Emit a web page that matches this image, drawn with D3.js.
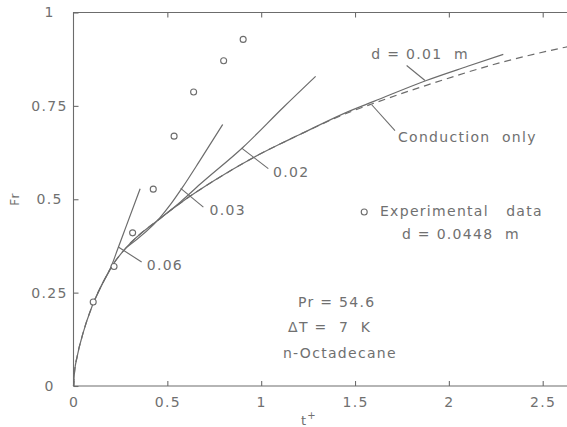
<!DOCTYPE html>
<html>
<head>
<meta charset="utf-8">
<script src="https://cdn.jsdelivr.net/npm/d3@7"></script>
<style>
  body { margin: 0; background: #fff; }
  text { font-family: "DejaVu Sans", sans-serif; fill: #707070; letter-spacing: 1.3px; }
</style>
</head>
<body>
<div id="grafica"></div>
<script>
// data (t+ , Fr)
var conductionT  = [0, 0.005, 0.02, 0.05, 0.1, 0.16, 0.21, 0.28, 0.46, 0.57, 0.75, 0.9, 0.96, 1.1, 1.2, 1.47, 1.6, 1.88, 2.27, 2.62, 2.75];
var conductionFr = [0, 0.035, 0.08, 0.14, 0.215, 0.28, 0.325, 0.37, 0.448, 0.49, 0.55, 0.595, 0.612, 0.648, 0.672, 0.733, 0.757, 0.805, 0.865, 0.907, 0.92];

var d001T  = [0, 0.005, 0.02, 0.05, 0.1, 0.16, 0.21, 0.28, 0.46, 0.57, 0.75, 0.9, 0.96, 1.1, 1.2, 1.47, 1.6, 1.88, 2.1, 2.29];
var d001Fr = [0, 0.035, 0.08, 0.14, 0.215, 0.28, 0.325, 0.37, 0.448, 0.49, 0.55, 0.595, 0.612, 0.648, 0.672, 0.736, 0.762, 0.818, 0.856, 0.888];

var d002T  = [0.46, 0.57, 0.674, 0.905, 1.12, 1.29];
var d002Fr = [0.448, 0.493, 0.54, 0.64, 0.747, 0.829];

var d003T  = [0.28, 0.46, 0.52, 0.577, 0.674, 0.795];
var d003Fr = [0.37, 0.45, 0.488, 0.529, 0.604, 0.70];

var d006T  = [0.1, 0.16, 0.19, 0.24, 0.275, 0.355];
var d006Fr = [0.215, 0.28, 0.307, 0.373, 0.42, 0.528];

var expT  = [0.105, 0.216, 0.315, 0.425, 0.536, 0.64, 0.80, 0.904];
var expFr = [0.225, 0.32, 0.41, 0.527, 0.669, 0.787, 0.871, 0.928];

var xTicks = [0, 0.5, 1, 1.5, 2, 2.5];
var yTicks = [0, 0.25, 0.5, 0.75, 1];

var w = 567, h = 427;
var ink = "#6c6c6c";

var svg = d3.select("#grafica")
    .append("svg")
    .attr("width", w)
    .attr("height", h);

var x = d3.scaleLinear().domain([0, 2.5]).range([73.5, 542.7]);
var y = d3.scaleLinear().domain([0, 1]).range([386, 12.5]);

function pts(ts, fs) {
    return ts.map(function(t, i) { return [t, fs[i]]; });
}

var line = d3.line()
    .x(function(d) { return x(d[0]); })
    .y(function(d) { return y(d[1]); })
    .curve(d3.curveMonotoneX);

// frame (right side runs off the picture)
svg.append("path")
    .attr("d", "M" + x(2.8) + "," + y(1) + "H" + x(0) + "V" + y(0) + "H" + x(2.8))
    .attr("fill", "none")
    .attr("stroke", ink)
    .attr("stroke-width", 1.1);

// axes, ticks pointing inward
var plain = function(d) { return String(d); };

var gx = svg.append("g")
    .attr("transform", "translate(0," + y(0) + ")")
    .call(d3.axisBottom(x).tickValues(xTicks).tickSize(-5).tickPadding(11).tickFormat(plain));

var gt = svg.append("g")
    .attr("transform", "translate(0," + y(1) + ")")
    .call(d3.axisTop(x).tickValues(xTicks.slice(1)).tickSize(-5).tickFormat(""));

var gy = svg.append("g")
    .attr("transform", "translate(" + x(0) + ",0)")
    .call(d3.axisLeft(y).tickValues(yTicks).tickSize(-5).tickFormat(plain));

[gx, gt, gy].forEach(function(g) {
    g.select(".domain").remove();
    g.selectAll("line").attr("stroke", ink).attr("stroke-width", 1.1);
    g.selectAll("text").style("font-size", "14px").attr("fill", "#707070");
});
gy.selectAll("text")
    .attr("x", -24)
    .style("text-anchor", "middle");

// axis titles
svg.append("text")
    .attr("x", 309)
    .attr("y", 425)
    .style("font-size", "13px")
    .style("text-anchor", "middle")
    .html("t<tspan dy='-6' style='font-size:10px'>+</tspan>");

svg.append("text")
    .attr("transform", "translate(19,199) rotate(-90)")
    .style("font-size", "12px")
    .style("text-anchor", "middle")
    .text("Fr");

// conduction only (dashed), then the d curves
svg.append("path")
    .datum(pts(conductionT, conductionFr))
    .attr("fill", "none")
    .attr("stroke", ink)
    .attr("stroke-width", 1.2)
    .style("stroke-dasharray", "7,5")
    .attr("d", line);

[[d001T, d001Fr], [d002T, d002Fr], [d003T, d003Fr], [d006T, d006Fr]].forEach(function(s) {
    svg.append("path")
        .datum(pts(s[0], s[1]))
        .attr("fill", "none")
        .attr("stroke", ink)
        .attr("stroke-width", 1.2)
        .attr("d", line);
});

// experimental points
svg.selectAll(".exp")
    .data(pts(expT, expFr))
    .enter()
    .append("circle")
    .attr("class", "exp")
    .attr("cx", function(d) { return x(d[0]); })
    .attr("cy", function(d) { return y(d[1]); })
    .attr("r", 3)
    .attr("fill", "#fff")
    .attr("stroke", ink)
    .attr("stroke-width", 1.1);

// leaders and curve labels (data units)
var notes = [
    { text: "0.06", from: [0.239, 0.372], to: [0.363, 0.332], at: [0.39, 0.3235] },
    { text: "0.03", from: [0.571, 0.529], to: [0.692, 0.479], at: [0.725, 0.471] },
    { text: "0.02", from: [0.896, 0.637], to: [1.038, 0.582], at: [1.063, 0.572] },
    { text: "d = 0.01  m", from: [1.775, 0.858], to: [1.873, 0.818], at: [1.587, 0.89] },
    { text: "Conduction  only", from: [1.589, 0.753], to: [1.713, 0.684], at: [1.729, 0.668] }
];

notes.forEach(function(n) {
    svg.append("line")
        .attr("x1", x(n.from[0])).attr("y1", y(n.from[1]))
        .attr("x2", x(n.to[0])).attr("y2", y(n.to[1]))
        .attr("stroke", ink)
        .attr("stroke-width", 1.1);
    svg.append("text")
        .attr("x", x(n.at[0]))
        .attr("y", y(n.at[1]))
        .attr("dy", "0.36em")
        .style("font-size", "14px")
        .style("white-space", "pre")
        .text(n.text);
});

// legend and case info
svg.append("circle")
    .attr("cx", x(1.549))
    .attr("cy", y(0.466))
    .attr("r", 3)
    .attr("fill", "#fff")
    .attr("stroke", ink)
    .attr("stroke-width", 1.1);

var info = [
    { text: "Experimental   data", at: [1.633, 0.468] },
    { text: "d = 0.0448  m", at: [1.75, 0.406] },
    { text: "Pr = 54.6", at: [1.196, 0.2246] },
    { text: "ΔT =  7  K", at: [1.143, 0.158] },
    { text: "n-Octadecane", at: [1.116, 0.088] }
];

info.forEach(function(n) {
    svg.append("text")
        .attr("x", x(n.at[0]))
        .attr("y", y(n.at[1]))
        .attr("dy", "0.36em")
        .style("font-size", "14px")
        .style("white-space", "pre")
        .text(n.text);
});
</script>
</body>
</html>
